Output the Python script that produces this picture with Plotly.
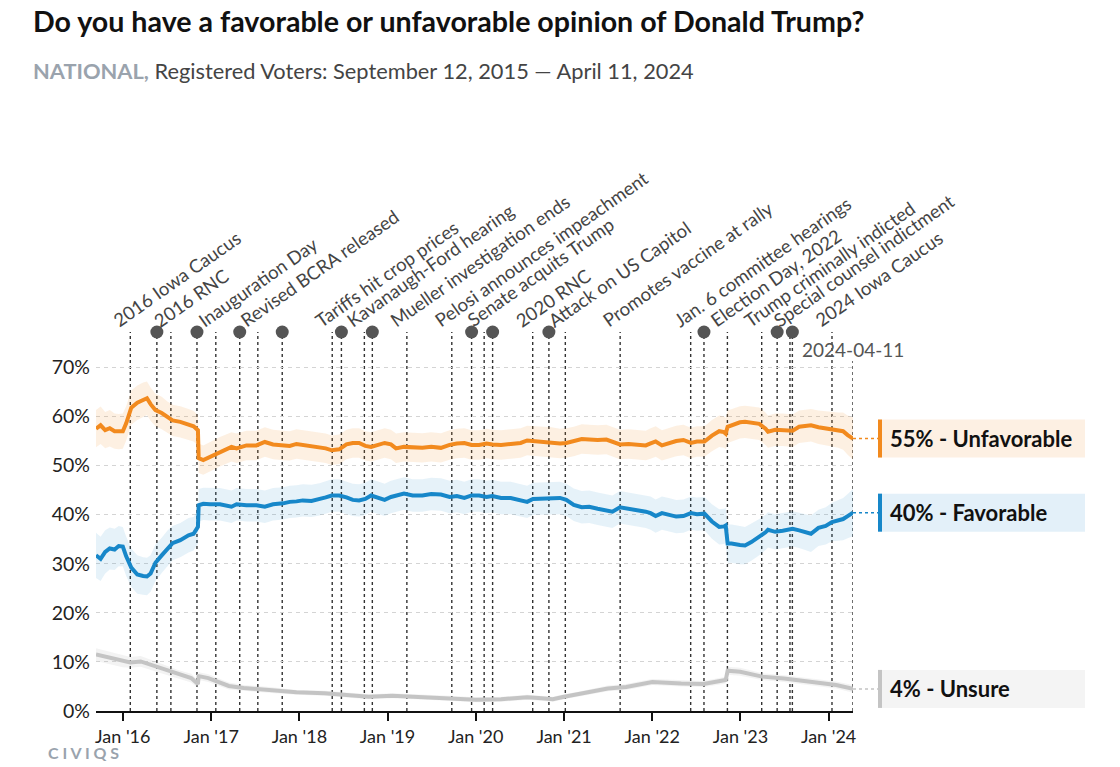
import plotly.graph_objects as go

# ---------------- DATA ----------------
TITLE = "Do you have a favorable or unfavorable opinion of Donald Trump?"
SUB_BOLD = "NATIONAL,"
SUB_REST = " Registered Voters: September 12, 2015 — April 11, 2024"

DATES = [
    "2015-09-12", "2015-10-01", "2015-10-20", "2015-11-08", "2015-11-28", "2015-12-15", "2016-01-01", "2016-01-15", "2016-02-05", "2016-03-01",
    "2016-03-25", "2016-04-10", "2016-04-25", "2016-05-15", "2016-06-10", "2016-07-05", "2016-07-25", "2016-08-26", "2016-09-29", "2016-10-20",
    "2016-11-07", "2016-11-10", "2016-11-29", "2016-12-27", "2017-02-06", "2017-03-26", "2017-04-16", "2017-05-27", "2017-07-07", "2017-08-11",
    "2017-09-14", "2017-10-26", "2017-11-22", "2017-12-20", "2018-01-15", "2018-02-20", "2018-03-25", "2018-04-20", "2018-05-15", "2018-06-15",
    "2018-07-15", "2018-08-10", "2018-09-05", "2018-10-01", "2018-10-25", "2018-11-20", "2018-12-20", "2019-01-15", "2019-02-05", "2019-03-10",
    "2019-04-15", "2019-05-25", "2019-07-01", "2019-08-10", "2019-09-15", "2019-10-15", "2019-11-15", "2019-12-15", "2020-01-15", "2020-02-15",
    "2020-03-10", "2020-04-15", "2020-05-25", "2020-07-05", "2020-08-01", "2020-08-25", "2020-10-01", "2020-11-10", "2020-12-15", "2021-01-10",
    "2021-02-10", "2021-03-15", "2021-04-15", "2021-05-20", "2021-06-25", "2021-07-20", "2021-08-20", "2021-09-25", "2021-11-01", "2021-12-05",
    "2021-12-25", "2022-01-15", "2022-02-10", "2022-03-10", "2022-04-10", "2022-05-10", "2022-06-10", "2022-07-05", "2022-08-05", "2022-09-05",
    "2022-10-05", "2022-10-25", "2022-11-01", "2022-11-09", "2022-11-25", "2022-12-30", "2023-01-20", "2023-02-15", "2023-03-20", "2023-04-15",
    "2023-04-25", "2023-05-25", "2023-06-25", "2023-08-05", "2023-09-01", "2023-10-05", "2023-10-20", "2023-11-20", "2023-12-20", "2024-01-15",
    "2024-02-10", "2024-03-01", "2024-03-20", "2024-04-11",
]

UNFAVORABLE = [
    57.5, 58.2, 57.2, 57.6, 57.0, 56.9, 57.0, 58.6, 61.8, 62.8,
    63.4, 63.7, 62.5, 61.3, 60.7, 59.8, 59.2, 58.9, 58.4, 58.0,
    57.2, 51.5, 51.1, 51.8, 52.8, 53.8, 53.5, 54.1, 54.1, 54.8,
    54.3, 54.1, 54.0, 54.4, 54.2, 53.9, 53.7, 53.5, 53.1, 53.3,
    54.3, 54.6, 54.6, 54.0, 53.8, 54.2, 54.6, 54.3, 53.5, 53.8,
    53.7, 53.6, 53.8, 53.6, 54.2, 54.5, 54.6, 54.2, 54.2, 54.5,
    54.3, 54.2, 54.4, 54.6, 55.1, 55.0, 54.9, 54.8, 54.5, 54.6,
    54.9, 55.4, 55.3, 55.2, 55.3, 54.9, 54.3, 54.4, 54.3, 54.1,
    54.5, 54.9, 54.1, 54.5, 55.0, 55.2, 54.6, 54.9, 54.9, 56.1,
    57.0, 56.8, 56.5, 57.9, 58.2, 58.8, 58.9, 58.7, 58.5, 57.5,
    56.9, 57.3, 57.3, 57.1, 57.9, 58.1, 58.2, 57.8, 57.6, 57.4,
    57.2, 57.0, 56.2, 55.5,
]

FAVORABLE = [
    31.7, 31.0, 32.4, 33.1, 32.9, 33.6, 33.5, 31.5, 29.2, 27.8,
    27.5, 27.4, 28.0, 30.2, 31.7, 33.2, 34.2, 34.8, 35.8, 36.1,
    37.5, 41.9, 42.2, 42.1, 42.1, 41.6, 42.1, 41.9, 41.9, 41.6,
    42.1, 42.3, 42.6, 42.7, 42.9, 42.8, 43.1, 43.5, 43.9, 43.9,
    43.5, 43.0, 42.9, 43.2, 43.9, 43.5, 43.0, 43.6, 43.9, 44.3,
    43.9, 43.9, 44.2, 44.1, 43.6, 43.8, 43.4, 43.9, 43.9, 43.6,
    43.8, 43.4, 43.4, 43.0, 42.6, 43.2, 43.3, 43.3, 43.4, 43.0,
    42.0, 41.5, 41.6, 41.2, 40.8, 40.6, 41.5, 41.2, 41.0, 40.6,
    40.3, 39.7, 40.3, 40.0, 39.6, 39.7, 40.3, 40.1, 40.2, 38.6,
    37.5, 37.6, 37.8, 34.1, 34.1, 33.8, 33.7, 34.4, 35.4, 36.4,
    36.9, 36.5, 36.7, 37.1, 36.8, 36.3, 36.1, 37.3, 37.7, 38.5,
    38.9, 39.1, 39.7, 40.4,
]

UNFAVORABLE_MOE = [
    3.8, 3.8, 3.7, 3.7, 3.6, 3.6, 3.6, 3.5, 3.5, 3.5,
    3.5, 3.4, 3.4, 3.3, 3.3, 3.2, 3.2, 3.2, 3.1, 3.1,
    3.1, 3.0, 3.0, 3.0, 3.0, 3.0, 3.0, 3.0, 3.0, 3.0,
    3.0, 3.0, 3.0, 3.0, 3.0, 3.0, 3.0, 3.0, 3.0, 3.0,
    3.0, 3.0, 3.0, 3.0, 3.0, 3.0, 3.0, 3.0, 3.0, 3.0,
    3.0, 3.0, 3.0, 3.0, 3.0, 3.0, 3.0, 3.0, 3.0, 3.0,
    3.0, 3.0, 3.0, 3.0, 3.0, 3.0, 3.0, 3.0, 3.0, 3.0,
    3.0, 3.0, 3.0, 3.0, 3.0, 3.0, 3.0, 3.0, 3.0, 3.0,
    3.1, 3.1, 3.1, 3.1, 3.1, 3.1, 3.1, 3.1, 3.1, 3.2,
    3.2, 3.2, 3.2, 3.3, 3.3, 3.3, 3.3, 3.3, 3.3, 3.3,
    3.3, 3.3, 3.3, 3.3, 3.3, 3.3, 3.3, 3.4, 3.4, 3.5,
    3.6, 3.8, 4.0, 4.3,
]

FAVORABLE_MOE = [
    4.6, 4.5, 4.4, 4.3, 4.2, 4.1, 4.0, 4.0, 3.9, 3.9,
    3.8, 3.8, 3.7, 3.7, 3.6, 3.6, 3.5, 3.5, 3.5, 3.4,
    3.4, 3.3, 3.3, 3.3, 3.3, 3.3, 3.3, 3.3, 3.3, 3.3,
    3.3, 3.3, 3.3, 3.3, 3.3, 3.3, 3.3, 3.3, 3.3, 3.3,
    3.3, 3.3, 3.3, 3.3, 3.3, 3.3, 3.3, 3.3, 3.3, 3.3,
    3.3, 3.3, 3.3, 3.3, 3.3, 3.3, 3.3, 3.3, 3.3, 3.3,
    3.3, 3.3, 3.3, 3.3, 3.3, 3.3, 3.3, 3.3, 3.3, 3.3,
    3.3, 3.3, 3.3, 3.3, 3.3, 3.3, 3.3, 3.3, 3.3, 3.3,
    3.4, 3.4, 3.4, 3.4, 3.4, 3.4, 3.4, 3.4, 3.4, 3.5,
    3.6, 3.6, 3.6, 3.9, 3.9, 3.9, 3.8, 3.8, 3.7, 3.6,
    3.6, 3.6, 3.6, 3.6, 3.6, 3.6, 3.7, 3.7, 3.8, 3.9,
    4.1, 4.3, 4.5, 4.8,
]

UNSURE_DATES = [
    "2015-09-12", "2016-01-01", "2016-02-01", "2016-03-15", "2016-06-01", "2016-08-20", "2016-10-10", "2016-11-07", "2016-11-10", "2016-12-20",
    "2017-03-15", "2017-05-15", "2017-09-01", "2017-12-20", "2018-04-15", "2018-07-01", "2018-10-15", "2019-01-20", "2019-05-15", "2019-09-15",
    "2020-01-01", "2020-04-15", "2020-08-01", "2020-10-01", "2020-11-15", "2021-01-01", "2021-03-01", "2021-07-01", "2021-09-15", "2022-01-01",
    "2022-05-01", "2022-08-01", "2022-11-01", "2022-11-09", "2022-12-31", "2023-04-01", "2023-07-01", "2023-08-15", "2023-11-01", "2024-02-01",
    "2024-04-11",
]
UNSURE = [
    11.5, 10.1, 9.9, 10.1, 8.8, 7.4, 6.7, 5.5, 7.1, 6.7,
    5.1, 4.7, 4.3, 3.8, 3.6, 3.3, 2.9, 3.1, 2.9, 2.6,
    2.3, 2.4, 2.8, 2.6, 2.4, 2.9, 3.4, 4.6, 4.9, 5.9,
    5.6, 5.5, 6.3, 8.2, 8.0, 7.0, 6.6, 6.3, 5.9, 5.3,
    4.5,
]
UNSURE_MOE = [
    1.3, 1.2, 1.1, 1.1, 1.0, 0.9, 0.9, 0.8, 0.8, 0.8,
    0.7, 0.6, 0.6, 0.5, 0.5, 0.5, 0.5, 0.5, 0.5, 0.5,
    0.5, 0.5, 0.5, 0.5, 0.5, 0.5, 0.5, 0.6, 0.6, 0.6,
    0.6, 0.6, 0.7, 0.8, 0.8, 0.7, 0.7, 0.7, 0.7, 0.7,
    0.8,
]

EVENT_LABELS = [
    "2016 Iowa Caucus", "2016 RNC", "Inauguration Day", "Revised BCRA released",
    "Tariffs hit crop prices", "Kavanaugh-Ford hearing", "Mueller investigation ends",
    "Pelosi announces impeachment", "Senate acquits Trump", "2020 RNC",
    "Attack on US Capitol", "Promotes vaccine at rally", "Jan. 6 committee hearings",
    "Election Day, 2022", "Trump criminally indicted", "Special counsel indictment",
    "2024 Iowa Caucus",
]
EVENT_DATES = [
    "2016-02-01", "2016-07-18", "2017-01-20", "2017-07-13",
    "2018-05-17", "2018-09-27", "2019-03-22",
    "2019-09-24", "2020-02-05", "2020-08-24",
    "2021-01-06", "2021-08-21", "2022-06-09",
    "2022-11-08", "2023-03-30", "2023-07-25",
    "2024-01-15",
]
DOT_DATES = [
    "2016-05-21", "2016-11-03", "2017-04-29", "2017-10-22", "2018-06-24", "2018-10-30",
    "2019-12-15", "2020-03-11", "2020-10-30", "2022-08-03", "2023-06-02", "2023-08-04",
]

X_TICK_VALS = ["2016-01-01", "2017-01-01", "2018-01-01", "2019-01-01", "2020-01-01",
               "2021-01-01", "2022-01-01", "2023-01-01", "2024-01-01"]
X_TICK_TEXT = ["Jan '16", "Jan '17", "Jan '18", "Jan '19", "Jan '20",
               "Jan '21", "Jan '22", "Jan '23", "Jan '24"]
Y_TICK_VALS = [0, 10, 20, 30, 40, 50, 60, 70]
Y_TICK_TEXT = ["0%", "10%", "20%", "30%", "40%", "50%", "60%", "70%"]

END_LABELS = ["55% - Unfavorable", "40% - Favorable", "4% - Unsure"]
CURRENT_DATE = "2024-04-11"

# ---------------- STYLE ----------------
W, H = 1120, 767
ML, MR, MT, MB = 96, 267, 332, 56
YMAX = 77.2
X_START, X_END = "2015-09-12", "2024-04-11"
FONT = "Lato, 'Open Sans', sans-serif"

ORANGE = "#f28a1e"
BLUE = "#1787c9"
GRAY = "#c4c4c4"
ORANGE_BAND = "rgba(242,138,30,0.13)"
BLUE_BAND = "rgba(23,135,201,0.11)"
GRAY_BAND = "rgba(180,180,180,0.16)"
ORANGE_BOX = "#fdf0e3"
BLUE_BOX = "#e3f0f9"
GRAY_BOX = "#f4f4f4"

PW = W - ML - MR
PH = H - MT - MB


def px_x(px):
    return (px - ML) / PW


def px_y(py):
    return (H - MB - py) / PH


fig = go.Figure()


def add_series(dates, vals, moe, color, band):
    upper = [v + m for v, m in zip(vals, moe)]
    lower = [v - m for v, m in zip(vals, moe)]
    fig.add_trace(go.Scatter(x=dates, y=upper, mode="lines", line=dict(width=0, color=band),
                             hoverinfo="skip", showlegend=False))
    fig.add_trace(go.Scatter(x=dates, y=lower, mode="lines", line=dict(width=0, color=band),
                             fill="tonexty", fillcolor=band, hoverinfo="skip", showlegend=False))
    fig.add_trace(go.Scatter(x=dates, y=vals, mode="lines", line=dict(width=4, color=color),
                             showlegend=False))


add_series(UNSURE_DATES, UNSURE, UNSURE_MOE, GRAY, GRAY_BAND)
add_series(DATES, FAVORABLE, FAVORABLE_MOE, BLUE, BLUE_BAND)
add_series(DATES, UNFAVORABLE, UNFAVORABLE_MOE, ORANGE, ORANGE_BAND)

# event lines
for d in EVENT_DATES + DOT_DATES:
    fig.add_shape(type="line", xref="x", yref="y", x0=d, x1=d, y0=0, y1=YMAX,
                  line=dict(color="#333333", width=1.4, dash="3px,3px"), layer="below")

# current date line
fig.add_shape(type="line", xref="x", yref="y", x0=CURRENT_DATE, x1=CURRENT_DATE, y0=0, y1=71.3,
              line=dict(color="#333333", width=1.4, dash="3px,3px"), layer="below")
fig.add_annotation(x=CURRENT_DATE, y=73.6, xref="x", yref="y", text=CURRENT_DATE,
                   showarrow=False, font=dict(family=FONT, size=19, color="#555555"),
                   xanchor="center", yanchor="middle")

# dots
fig.add_trace(go.Scatter(x=DOT_DATES, y=[YMAX] * len(DOT_DATES), mode="markers",
                         marker=dict(size=13, color="#555555"), cliponaxis=False,
                         showlegend=False, hoverinfo="skip"))

# event labels
for lab, d in zip(EVENT_LABELS, EVENT_DATES):
    fig.add_annotation(x=d, y=YMAX, xref="x", yref="y", text=lab, showarrow=False,
                       textangle=-35, xanchor="left", yanchor="bottom",
                       xshift=-24, yshift=-2,
                       font=dict(family=FONT, size=18.5, color="#444444"))

# end labels
finals = [UNFAVORABLE[-1], FAVORABLE[-1], UNSURE[-1]]
colors = [ORANGE, BLUE, GRAY]
boxes = [ORANGE_BOX, BLUE_BOX, GRAY_BOX]
box_left, box_right = px_x(878), px_x(1085)
half_h = 19 / PH
for val, txt, c, bc in zip(finals, END_LABELS, colors, boxes):
    yc = val / YMAX
    fig.add_shape(type="rect", xref="paper", yref="paper", x0=box_left, x1=box_right,
                  y0=yc - half_h, y1=yc + half_h, fillcolor=bc, line=dict(width=0))
    fig.add_shape(type="rect", xref="paper", yref="paper", x0=box_left, x1=px_x(882),
                  y0=yc - half_h, y1=yc + half_h, fillcolor=c, line=dict(width=0))
    fig.add_shape(type="line", xref="paper", yref="paper", x0=1.0, x1=box_left,
                  y0=yc, y1=yc, line=dict(color=c, width=1.5, dash="3px,3px"))
    fig.add_annotation(x=px_x(888), y=yc, xref="paper", yref="paper", text=f"<b>{txt}</b>",
                       showarrow=False, xanchor="left", yanchor="middle",
                       font=dict(family=FONT, size=22, color="#111111"))

# title / subtitle / logo
fig.add_annotation(x=px_x(31), y=px_y(21), xref="paper", yref="paper",
                   text=f"<b>{TITLE}</b>", showarrow=False, xanchor="left", yanchor="middle",
                   font=dict(family=FONT, size=28.6, color="#111111"))
fig.add_annotation(x=px_x(31), y=px_y(70), xref="paper", yref="paper",
                   text=f"<b><span style='color:#9aa3ad'>{SUB_BOLD}</span></b>{SUB_REST}",
                   showarrow=False, xanchor="left", yanchor="middle",
                   font=dict(family=FONT, size=21.8, color="#444444"))
fig.add_annotation(x=px_x(46), y=px_y(752), xref="paper", yref="paper",
                   text="<b>C I V I Q S</b>", showarrow=False, xanchor="left", yanchor="middle",
                   font=dict(family=FONT, size=16, color="#9aa3ad"))

fig.update_layout(
    width=W, height=H,
    margin=dict(l=ML, r=MR, t=MT, b=MB),
    paper_bgcolor="white", plot_bgcolor="white",
    font=dict(family=FONT, color="#222222"),
    showlegend=False,
    xaxis=dict(type="date", range=[X_START, X_END], tickvals=X_TICK_VALS, ticktext=X_TICK_TEXT,
               showgrid=False, zeroline=False, showline=True, linecolor="#111111", linewidth=2,
               ticks="outside", ticklen=8, tickwidth=1.5, tickcolor="#111111",
               tickfont=dict(family=FONT, size=18, color="#222222")),
    yaxis=dict(range=[0, YMAX], tickvals=Y_TICK_VALS, ticktext=Y_TICK_TEXT,
               showgrid=True, gridcolor="#d4d4d4", gridwidth=1, griddash="4px,4px",
               zeroline=False, showline=False, ticks="", ticklabelstandoff=5,
               tickfont=dict(family=FONT, size=19.5, color="#222222")),
)

fig.write_html("out.html", config={"displayModeBar": False},
               post_script="document.body.style.margin='0';")
